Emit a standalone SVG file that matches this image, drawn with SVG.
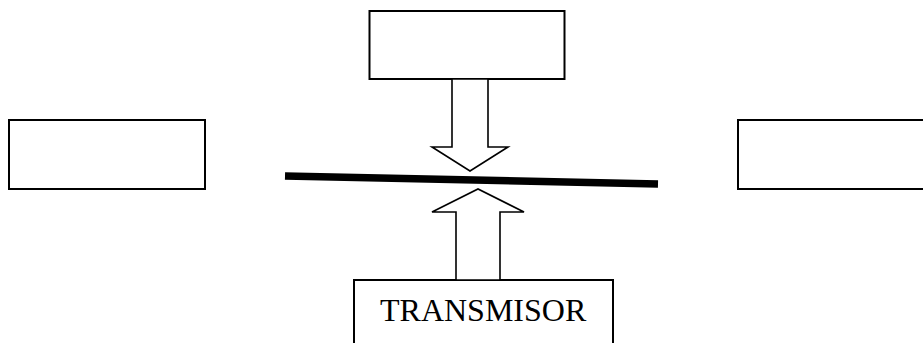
<svg xmlns="http://www.w3.org/2000/svg" width="923" height="343" viewBox="0 0 923 343">
  <style>
    .box { fill: #ffffff; stroke: #000000; stroke-width: 2; }
    .blockarrow { fill: #ffffff; stroke: #000000; stroke-width: 1.6; stroke-linejoin: miter; }
    .label { font-family: "Liberation Serif", "Times New Roman", serif; font-size: 32px; fill: #000000; }
  </style>
  <rect width="923" height="343" fill="#ffffff"/>
  <g id="node-top">
    <rect class="box" x="369.5" y="11" width="195" height="68"/>
  </g>
  <g id="node-left">
    <rect class="box" x="9" y="120" width="196" height="69"/>
  </g>
  <g id="node-right">
    <rect class="box" x="738" y="120" width="200" height="69"/>
  </g>
  <g id="node-medium">
    <line x1="285" y1="176" x2="658" y2="184" stroke="#000000" stroke-width="7.5"/>
  </g>
  <g id="node-transmisor">
    <rect class="box" x="354" y="280" width="259" height="80"/>
    <text class="label" x="380" y="321">TRANSMISOR</text>
  </g>
  <g id="connectors">
    <polygon class="blockarrow" points="452,79 488,79 488,147 508,147 470,171 432,147 452,147"/>
    <polygon class="blockarrow" points="456,280 500,280 500,212 524,212 478,189 432,212 456,212"/>
  </g>
</svg>
